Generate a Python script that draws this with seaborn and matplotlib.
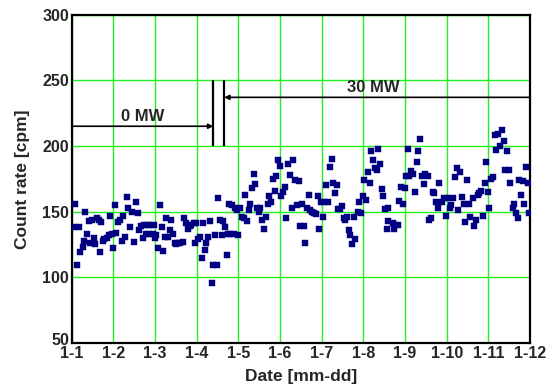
"""
Count rate vs. date scatter, 0 MW / 30 MW periods marked.
"""

import matplotlib

matplotlib.use("Agg")
import matplotlib.dates as mdates
import matplotlib.pyplot as plt
import matplotlib.transforms as mtransforms
import pandas as pd
import seaborn as sns
from matplotlib.ticker import FuncFormatter

START = pd.Timestamp("2010-01-01")

# time of each reading, in days after 1-1 00:00
days = [
    0.08, 0.06, 0.18, 0.12, 0.20, 0.26, 0.30, 0.33, 0.37, 0.41,
    0.45, 0.49, 0.53, 0.57, 0.61, 0.65, 0.68, 0.71, 0.74, 0.78,
    0.84, 0.89, 0.92, 0.96, 1.00, 1.04, 1.06, 1.12, 1.16, 1.20,
    1.24, 1.28, 1.32, 1.36, 1.41, 1.45, 1.49, 1.54, 1.59, 1.61,
    1.66, 1.70, 1.73, 1.78, 1.82, 1.86, 1.89, 1.94, 1.98, 1.99,
    2.03, 2.07, 2.11, 2.16, 2.20, 2.24, 2.27, 2.31, 2.35, 2.39,
    2.43, 2.47, 2.51, 2.55, 2.61, 2.66, 2.69, 2.74, 2.78, 2.83,
    2.87, 2.93, 2.95, 2.99, 3.02, 3.07, 3.12, 3.15, 3.19, 3.23,
    3.27, 3.33, 3.37, 3.40, 3.45, 3.48, 3.52, 3.56, 3.61, 3.64,
    3.68, 3.72, 3.75, 3.77,
    3.80, 3.84, 3.89, 3.92, 3.96, 4.00, 4.04, 4.08, 4.13, 4.16,
    4.21, 4.25, 4.29, 4.33, 4.37, 4.40, 4.45, 4.50, 4.53, 4.57,
    4.62, 4.66, 4.70, 4.74, 4.78, 4.82, 4.88, 4.90, 4.95, 5.00,
    5.03, 5.07, 5.11, 5.15, 5.19, 5.23, 5.28, 5.32, 5.36, 5.41,
    5.45, 5.48, 5.53, 5.57, 5.61, 5.65, 5.69, 5.71, 5.76, 5.82,
    5.86, 5.90, 5.94, 5.98, 6.03, 6.06, 6.11, 6.15, 6.19, 6.24,
    6.28, 6.32, 6.36, 6.40, 6.45, 6.49, 6.53, 6.57, 6.61, 6.65,
    6.69, 6.73, 6.77, 6.81, 6.86, 6.90, 6.95, 6.99, 7.02, 7.07,
    7.10, 7.15, 7.19, 7.24, 7.28, 7.32, 7.36, 7.40, 7.44, 7.48,
    7.52, 7.57, 7.58, 7.60,
    7.70, 7.73, 7.77, 7.82, 7.86, 7.90, 7.94, 7.99, 8.02, 8.08,
    8.10, 8.14, 8.18, 8.24, 8.28, 8.32, 8.36, 8.40, 8.45, 8.48,
    8.54, 8.58, 8.62, 8.66, 8.70, 8.74, 8.78, 8.82, 8.88, 8.94,
    8.99, 9.04, 9.08, 9.11, 9.15, 9.20, 9.24, 9.28, 9.32, 9.37,
    9.41, 9.45, 9.49, 9.53, 9.57, 9.62, 9.66, 9.70, 9.74, 9.78,
    9.82, 9.87, 9.91, 9.95, 9.99, 10.02, 10.07, 10.12, 10.16, 10.19,
    10.24, 10.28, 10.32, 10.37, 10.41, 10.45, 10.49, 10.53, 10.58, 10.62,
    10.66, 10.70, 10.74, 10.78, 10.82, 10.86, 10.90, 10.94, 10.97,
]

counts = [
    156, 138, 138, 109, 119, 123, 128, 150, 133, 143,
    126, 144, 130, 125, 145, 144, 119, 142, 128, 129,
    130, 132, 147, 133, 122, 155, 134, 142, 144, 128,
    147, 131, 161, 153, 138, 150, 127, 157, 149, 136,
    139, 130, 140, 133, 140, 133, 140, 133, 140, 130,
    132, 122, 155, 138, 120, 131, 145, 131, 136, 144,
    133, 126, 125, 126, 126, 127, 145, 141, 137, 139,
    140, 141, 126, 141, 129, 131, 115, 141, 121, 126,
    131, 143, 96, 109, 132, 109, 160, 144, 132, 143,
    138, 117, 133, 156,
    133, 155, 133, 153, 151, 132, 153, 146, 145, 163,
    143, 151, 156, 168, 179, 171, 153, 150, 153, 144,
    137, 146, 156, 162, 157, 175, 166, 177, 189, 185,
    162, 165, 169, 145, 186, 178, 153, 189, 174, 155,
    173, 139, 156, 139, 126, 153, 163, 151, 150, 149,
    148, 162, 137, 157, 146, 157, 170, 157, 184, 190,
    172, 164, 170, 152, 152, 154, 145, 144, 146, 136,
    132, 125, 146, 129, 150, 157, 149, 162, 174, 159,
    180, 172, 196, 189, 183, 182, 198, 186, 167, 162,
    152, 137, 143, 153,
    141, 137, 140, 140, 158, 169, 156, 168, 177, 198,
    177, 181, 179, 165, 188, 196, 205, 177, 171, 179,
    177, 144, 145, 165, 164, 157, 153, 172, 157, 160,
    147, 160, 153, 155, 160, 176, 183, 151, 180, 161,
    156, 142, 174, 156, 146, 160, 139, 144, 163, 164,
    166, 147, 172, 188, 165, 153, 175, 176, 208, 197,
    209, 200, 212, 204, 182, 196, 182, 172, 153, 156,
    149, 145, 174, 163, 173, 156, 184, 172, 149,
]

power_labels = ["0 MW", "30 MW"]
switch_days = [3.40, 3.66]


def day_to_num(d):
    return mdates.date2num(START + pd.Timedelta(days=d))


def main():
    df = pd.DataFrame({"date": START + pd.to_timedelta(days, unit="D"), "count": counts})

    sns.set_style("white")
    plt.rcParams["font.family"] = ["Liberation Sans", "DejaVu Sans"]
    plt.rcParams["font.weight"] = "bold"

    fig = plt.figure(figsize=(5.49, 3.87), dpi=100)
    ax = fig.add_axes([0.1306, 0.1137, 0.8348, 0.8486])

    sns.scatterplot(data=df, x="date", y="count", ax=ax, marker="s", s=16,
                    color="#000080", edgecolor="#000080", linewidth=0.3, zorder=3)

    ax.set_xlim(day_to_num(0), day_to_num(11))
    ax.set_ylim(50, 300)
    ax.xaxis.set_major_locator(mdates.DayLocator())
    ax.xaxis.set_major_formatter(
        FuncFormatter(lambda v, _: f"{mdates.num2date(v).month}-{mdates.num2date(v).day}"))
    ax.set_yticks(range(50, 301, 50))

    ax.grid(True, color="#22f022", lw=1.0)
    ax.set_axisbelow(True)
    for sp in ax.spines.values():
        sp.set_visible(True)
        sp.set_color("black")
        sp.set_linewidth(1.6)
    ax.tick_params(direction="in", length=6, width=1.4, color="black",
                   labelsize=11.5, pad=2)
    for lab in ax.get_xticklabels() + ax.get_yticklabels():
        lab.set_fontweight("bold")

    # lift the bottom "50" label a little so it clears "1-1"
    ylabs = ax.get_yticklabels()
    ylabs[0].set_transform(ylabs[0].get_transform()
                           + mtransforms.ScaledTranslation(0, 3 / 72, fig.dpi_scale_trans))

    ax.set_xlabel("Date [mm-dd]", fontsize=12.5, fontweight="bold", labelpad=6)
    ax.set_ylabel("Count rate [cpm]", fontsize=12.5, fontweight="bold", labelpad=9)

    x0, x1 = day_to_num(switch_days[0]), day_to_num(switch_days[1])
    ax.vlines([x0, x1], 200, 250, color="black", lw=1.6, zorder=4)

    arrow = dict(arrowstyle="-|>", color="black", lw=1.2, mutation_scale=7,
                 shrinkA=0, shrinkB=0)
    ax.annotate("", xy=(x0, 215), xytext=(day_to_num(0), 215), arrowprops=arrow)
    ax.annotate("", xy=(x1, 237), xytext=(day_to_num(11), 237), arrowprops=arrow)
    ax.text(day_to_num(1.70), 217, power_labels[0], ha="center", va="bottom",
            fontsize=12, fontweight="bold")
    ax.text(day_to_num(7.25), 239, power_labels[1], ha="center", va="bottom",
            fontsize=12, fontweight="bold")

    fig.savefig("out.png", dpi=100)
    plt.close(fig)


if __name__ == "__main__":
    main()
